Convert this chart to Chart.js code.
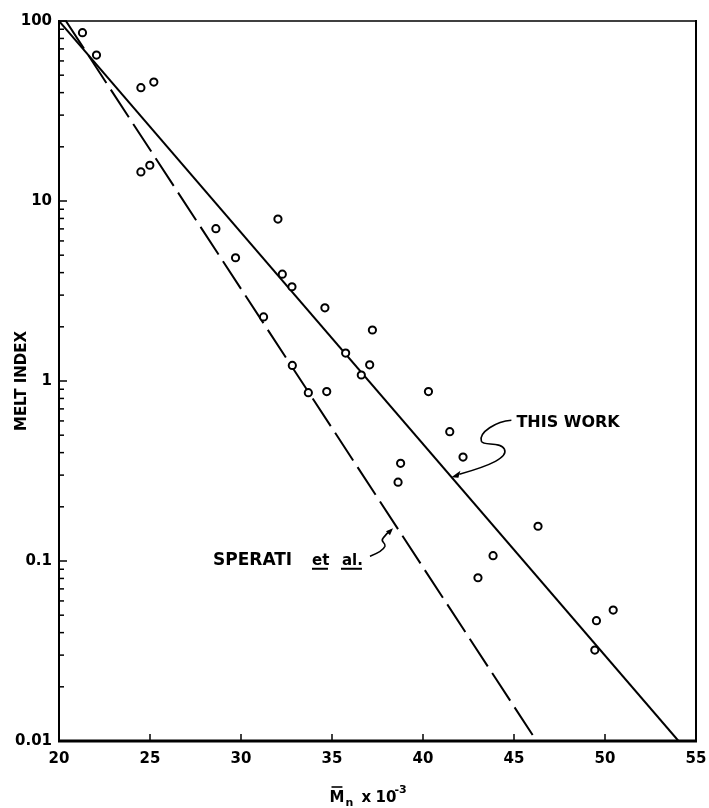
<!DOCTYPE html>
<html>
<head>
<meta charset="utf-8">
<script src="https://cdn.jsdelivr.net/npm/chart.js@4.4.1/dist/chart.umd.min.js"></script>
<style>
  html, body { margin: 0; padding: 0; background: #fff; }
  #wrap { width: 709px; height: 808px; }
</style>
</head>
<body>
<div id="wrap"><canvas id="melt_index" width="709" height="808"></canvas></div>
<script>
// measured samples: Mn x 10^-3 vs melt index
var mnValues = [21.29, 22.06, 24.50, 25.21, 24.50, 24.99, 28.62, 29.70, 32.03, 32.27, 32.80,
                31.24, 34.61, 37.22, 35.75, 37.07, 36.61, 32.82, 33.70, 34.71, 40.30, 41.47,
                42.20, 38.77, 38.63, 46.32, 43.85, 43.02, 50.45, 49.53, 49.44];
var meltIndexValues = [86.1, 64.7, 42.6, 45.8, 14.5, 15.8, 7.02, 4.84, 7.94, 3.92, 3.34,
                       2.27, 2.55, 1.92, 1.43, 1.23, 1.08, 1.22, 0.861, 0.873, 0.873, 0.523,
                       0.378, 0.349, 0.274, 0.156, 0.107, 0.0807, 0.0534, 0.0466, 0.0320];

// fitted lines (end points)
var thisWorkX = [20, 54.04];
var thisWorkY = [100, 0.01];
var speratiX = [20.38, 46.24];
var speratiY = [100, 0.01];

var xTicks = [20, 25, 30, 35, 40, 45, 50, 55];
var yTicks = [0.01, 0.1, 1, 10, 100];
var yTickLabels = ['0.01', '0.1', '1', '10', '100'];
var yMinorSteps = [2, 3, 4, 5, 6, 7, 8, 9];

// where the labels' arrows touch the lines
var thisWorkTip = { x: 41.56, y: 0.292 };
var speratiTip = { x: 38.35, y: 0.152 };

var FONT = '"DejaVu Sans", sans-serif';

function pairUp(xs, ys) {
  return xs.map(function (x, i) { return { x: x, y: ys[i] }; });
}

var decorPlugin = {
  id: 'decor',
  afterDraw: function (chart) {
    var ctx = chart.ctx;
    var a = chart.chartArea;
    var xs = chart.scales.x;
    var ys = chart.scales.y;
    ctx.save();
    ctx.strokeStyle = '#000';
    ctx.fillStyle = '#000';
    ctx.lineCap = 'butt';

    // frame
    ctx.lineWidth = 1.5;
    ctx.beginPath(); ctx.moveTo(a.left, a.top); ctx.lineTo(a.right, a.top); ctx.stroke();
    ctx.lineWidth = 2;
    ctx.beginPath(); ctx.moveTo(a.left, a.top - 1); ctx.lineTo(a.left, a.bottom); ctx.stroke();
    ctx.beginPath(); ctx.moveTo(a.right, a.top - 1); ctx.lineTo(a.right, a.bottom); ctx.stroke();
    ctx.lineWidth = 3;
    ctx.beginPath(); ctx.moveTo(a.left - 1, a.bottom); ctx.lineTo(a.right + 1, a.bottom); ctx.stroke();

    // inward ticks
    ctx.lineWidth = 1.5;
    ys.ticks.forEach(function (t) {
      var py = ys.getPixelForValue(t.value);
      var len = yTicks.indexOf(t.value) >= 0 ? 8 : 5;
      ctx.beginPath(); ctx.moveTo(a.left, py); ctx.lineTo(a.left + len, py); ctx.stroke();
    });
    xs.ticks.forEach(function (t) {
      var px = xs.getPixelForValue(t.value);
      ctx.beginPath(); ctx.moveTo(px, a.bottom); ctx.lineTo(px, a.bottom - 7); ctx.stroke();
    });

    // y title
    ctx.save();
    ctx.translate(22, (a.top + a.bottom) / 2);
    ctx.rotate(-Math.PI / 2);
    ctx.font = 'bold 15px ' + FONT;
    ctx.textAlign = 'center';
    ctx.textBaseline = 'middle';
    ctx.fillText('MELT INDEX', 0, 0);
    ctx.restore();

    // x title  M(bar) n x 10^-3
    var cx = (a.left + a.right) / 2 - 48;
    var by = 802;
    ctx.textAlign = 'left';
    ctx.textBaseline = 'alphabetic';
    ctx.font = 'bold 15px ' + FONT;
    ctx.fillText('M', cx, by);
    var mw = ctx.measureText('M').width;
    ctx.lineWidth = 1.6;
    ctx.beginPath(); ctx.moveTo(cx + 2, by - 15); ctx.lineTo(cx + mw - 2, by - 15); ctx.stroke();
    ctx.font = 'bold 11px ' + FONT;
    ctx.fillText('n', cx + mw + 1, by + 4);
    ctx.font = 'bold 15px ' + FONT;
    ctx.fillText('x', cx + 32, by);
    ctx.fillText('10', cx + 46, by);
    ctx.font = 'bold 11px ' + FONT;
    ctx.fillText('-3', cx + 65, by - 9);

    // "THIS WORK" label and arrow
    var tx = xs.getPixelForValue(thisWorkTip.x);
    var ty = ys.getPixelForValue(thisWorkTip.y);
    ctx.save();
    ctx.translate(tx, ty);
    ctx.lineWidth = 1.6;
    ctx.beginPath();
    ctx.moveTo(60, -57);
    ctx.bezierCurveTo(45, -56, 27, -45, 30, -36);
    ctx.bezierCurveTo(32, -31, 49, -36, 53, -28);
    ctx.bezierCurveTo(57, -20, 40, -12, 8, -3);
    ctx.stroke();
    ctx.beginPath();
    ctx.moveTo(0, 0); ctx.lineTo(9, -6.5); ctx.lineTo(7, 0.5); ctx.closePath(); ctx.fill();
    ctx.font = 'bold 16px ' + FONT;
    ctx.fillText('THIS WORK', 65, -50.5);
    ctx.restore();

    // "SPERATI et al." label and arrow
    var sx = xs.getPixelForValue(speratiTip.x);
    var sy = ys.getPixelForValue(speratiTip.y);
    ctx.save();
    ctx.translate(sx, sy);
    ctx.lineWidth = 1.6;
    ctx.beginPath();
    ctx.moveTo(-23, 28);
    ctx.bezierCurveTo(-18, 26, -10, 23, -8, 18);
    ctx.bezierCurveTo(-7, 14, -13, 14, -10, 10);
    ctx.bezierCurveTo(-8, 7, -5, 4, -2, 2);
    ctx.stroke();
    ctx.beginPath();
    ctx.moveTo(0, 0); ctx.lineTo(-3, 7); ctx.lineTo(-7, 3); ctx.closePath(); ctx.fill();
    ctx.font = 'bold 17px ' + FONT;
    ctx.fillText('SPERATI', -180, 37);
    ctx.font = 'bold 15px ' + FONT;
    ctx.fillText('et', -81, 37);
    ctx.fillText('al.', -51, 37);
    ctx.lineWidth = 2;
    ctx.beginPath(); ctx.moveTo(-81, 40.5); ctx.lineTo(-65, 40.5); ctx.stroke();
    ctx.beginPath(); ctx.moveTo(-52, 40.5); ctx.lineTo(-31, 40.5); ctx.stroke();
    ctx.restore();

    ctx.restore();
  }
};

var tickFont = { family: FONT, weight: 'bold', size: 15 };

var meltChart = new Chart(document.getElementById('melt_index'), {
  type: 'scatter',
  data: {
    datasets: [{
      label: 'Samples',
      data: pairUp(mnValues, meltIndexValues),
      pointRadius: 3.6,
      pointBorderWidth: 2,
      pointBackgroundColor: '#fff',
      pointBorderColor: '#000',
      order: 0
    }, {
      label: 'This work',
      type: 'line',
      data: pairUp(thisWorkX, thisWorkY),
      borderColor: '#000',
      borderWidth: 2,
      pointRadius: 0,
      fill: false,
      order: 1
    }, {
      label: 'Sperati et al.',
      type: 'line',
      data: pairUp(speratiX, speratiY),
      borderColor: '#000',
      borderWidth: 2,
      borderDash: [33, 8],
      pointRadius: 0,
      fill: false,
      order: 2
    }]
  },
  options: {
    responsive: false,
    devicePixelRatio: 1,
    animation: false,
    layout: { padding: { top: 21, right: 13, bottom: 0, left: 0 } },
    plugins: {
      legend: { display: false },
      tooltip: { enabled: false }
    },
    scales: {
      x: {
        type: 'linear',
        min: 20,
        max: 55,
        afterBuildTicks: function (s) {
          s.ticks = xTicks.map(function (v) { return { value: v }; });
        },
        afterFit: function (s) {
          s.height = 67;
          s.paddingLeft = 0;
          s.paddingRight = 0;
        },
        grid: { display: false, drawTicks: false },
        border: { display: false },
        ticks: {
          font: tickFont,
          color: '#000',
          padding: 9,
          maxRotation: 0,
          autoSkip: false,
          callback: function (v) { return String(v); }
        }
      },
      y: {
        type: 'logarithmic',
        min: 0.01,
        max: 100,
        afterBuildTicks: function (s) {
          var t = [];
          yTicks.forEach(function (d, i) {
            t.push({ value: d, major: true });
            if (i < yTicks.length - 1) {
              yMinorSteps.forEach(function (m) { t.push({ value: d * m }); });
            }
          });
          s.ticks = t;
        },
        afterFit: function (s) {
          s.width = 59;
          s.paddingTop = 0;
          s.paddingBottom = 0;
        },
        grid: { display: false, drawTicks: false },
        border: { display: false },
        ticks: {
          font: tickFont,
          color: '#000',
          padding: 7,
          autoSkip: false,
          callback: function (v) {
            var i = yTicks.indexOf(v);
            return i >= 0 ? yTickLabels[i] : '';
          }
        }
      }
    }
  },
  plugins: [decorPlugin]
});
</script>
</body>
</html>
